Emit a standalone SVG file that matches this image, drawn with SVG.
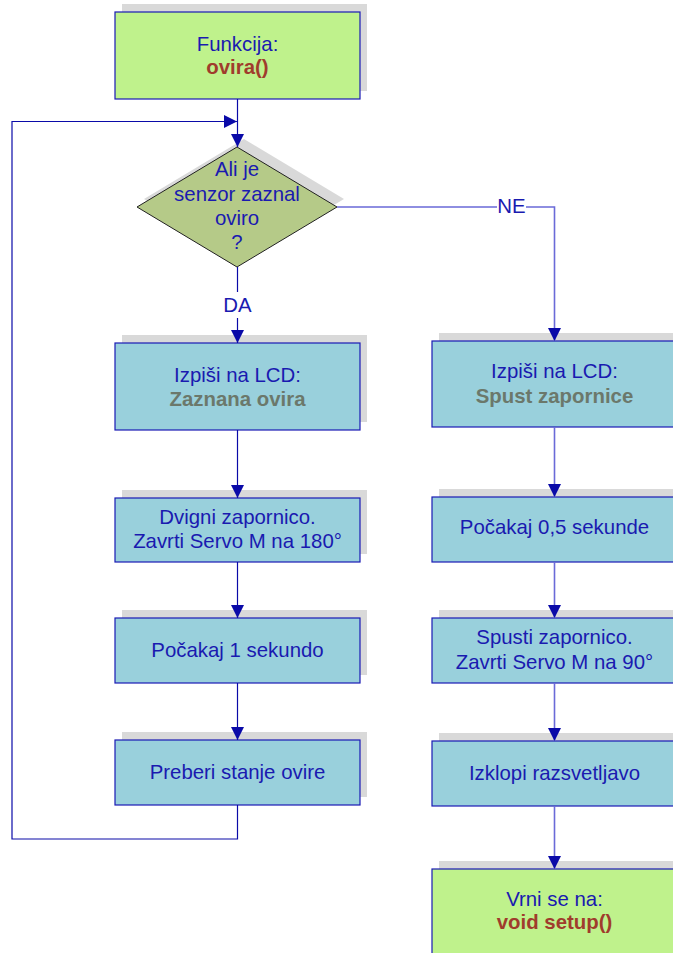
<svg xmlns="http://www.w3.org/2000/svg" width="673" height="953" viewBox="0 0 673 953">
<style>
  text { font-family: "Liberation Sans", Arial, sans-serif; font-size: 20.4px; text-anchor: middle; fill: #1a1ab0; }
  .red { font-weight: bold; fill: #a03c2c; }
  .gray { font-weight: bold; fill: #6b786b; }
  .shadow { fill: #d9d9d9; }
  .green { fill: #bff28c; stroke: #1a1ab4; stroke-width: 1.2; }
  .blue { fill: #99d0dc; stroke: #1a1ab4; stroke-width: 1.2; }
  .dia { fill: #b5ca88; stroke: #222222; stroke-width: 1; }
  .ln { fill: none; stroke: #0a0aa8; stroke-width: 1.2; }
  .lnr { fill: none; stroke: #6a6ad8; stroke-width: 1.6; }
</style>
<defs>
  <marker id="arr" markerUnits="userSpaceOnUse" markerWidth="14" markerHeight="14" refX="13" refY="6.5" orient="auto">
    <path d="M0,0 L13,6.5 L0,13 z" fill="#0a0aa8"/>
  </marker>
</defs>
<rect width="673" height="953" fill="#ffffff"/>

<g id="start">
  <rect class="shadow" x="122" y="4" width="245" height="87"/>
  <rect class="green" x="115" y="12" width="245" height="87"/>
  <text x="237.5" y="51">Funkcija:</text>
  <text class="red" x="237.5" y="74">ovira()</text>
</g>

<g id="decision">
  <polygon class="shadow" points="244,139 344,199 244,259 144,199"/>
  <polygon class="dia" points="237,147 337,207 237,267 137,207"/>
  <text x="237" y="176">Ali je</text>
  <text x="237" y="201">senzor zaznal</text>
  <text x="237" y="225">oviro</text>
  <text x="237" y="249">?</text>
</g>

<g id="lcd-zaznana">
  <rect class="shadow" x="122" y="335" width="245" height="87"/>
  <rect class="blue" x="115" y="343" width="245" height="87"/>
  <text x="237.5" y="382">Izpiši na LCD:</text>
  <text class="gray" x="237.5" y="406">Zaznana ovira</text>
</g>

<g id="dvigni">
  <rect class="shadow" x="122" y="490" width="245" height="64"/>
  <rect class="blue" x="115" y="498" width="245" height="64"/>
  <text x="237.5" y="524">Dvigni zapornico.</text>
  <text x="237.5" y="548">Zavrti Servo M na 180°</text>
</g>

<g id="pocakaj1">
  <rect class="shadow" x="122" y="610" width="245" height="65"/>
  <rect class="blue" x="115" y="618" width="245" height="65"/>
  <text x="237.5" y="657">Počakaj 1 sekundo</text>
</g>

<g id="preberi">
  <rect class="shadow" x="122" y="732" width="245" height="65"/>
  <rect class="blue" x="115" y="740" width="245" height="65"/>
  <text x="237.5" y="779">Preberi stanje ovire</text>
</g>

<g id="lcd-spust">
  <rect class="shadow" x="439" y="333" width="245" height="86"/>
  <rect class="blue" x="432" y="341" width="245" height="86"/>
  <text x="554.5" y="378">Izpiši na LCD:</text>
  <text class="gray" x="554.5" y="403">Spust zapornice</text>
</g>

<g id="pocakaj05">
  <rect class="shadow" x="439" y="489" width="245" height="65"/>
  <rect class="blue" x="432" y="497" width="245" height="65"/>
  <text x="554.5" y="534">Počakaj 0,5 sekunde</text>
</g>

<g id="spusti">
  <rect class="shadow" x="439" y="610" width="245" height="65"/>
  <rect class="blue" x="432" y="618" width="245" height="65"/>
  <text x="554.5" y="644">Spusti zapornico.</text>
  <text x="554.5" y="669">Zavrti Servo M na 90°</text>
</g>

<g id="izklopi">
  <rect class="shadow" x="439" y="733" width="245" height="65"/>
  <rect class="blue" x="432" y="741" width="245" height="65"/>
  <text x="554.5" y="780">Izklopi razsvetljavo</text>
</g>

<g id="vrni">
  <rect class="shadow" x="439" y="861" width="245" height="100"/>
  <rect class="green" x="432" y="869" width="245" height="100"/>
  <text x="554.5" y="906">Vrni se na:</text>
  <text class="red" x="554.5" y="929">void setup()</text>
</g>

<g id="connectors">
  <path class="ln" d="M237.5,99 V147" marker-end="url(#arr)"/>
  <path class="ln" d="M237.5,805 V839 H12 V121.5 H237" marker-end="url(#arr)"/>
  <path class="ln" d="M237.5,267 V343" marker-end="url(#arr)"/>
  <rect x="222" y="292" width="31" height="26" fill="#ffffff"/>
  <text x="237.5" y="312">DA</text>
  <path class="lnr" d="M337,207 H554.5 V341" marker-end="url(#arr)"/>
  <rect x="497" y="197" width="29" height="20" fill="#ffffff"/>
  <text x="511.5" y="213">NE</text>
  <path class="ln" d="M237.5,430 V498" marker-end="url(#arr)"/>
  <path class="ln" d="M237.5,562 V618" marker-end="url(#arr)"/>
  <path class="ln" d="M237.5,683 V740" marker-end="url(#arr)"/>
  <path class="lnr" d="M554.5,427 V497" marker-end="url(#arr)"/>
  <path class="lnr" d="M554.5,562 V618" marker-end="url(#arr)"/>
  <path class="lnr" d="M554.5,683 V741" marker-end="url(#arr)"/>
  <path class="lnr" d="M554.5,806 V869" marker-end="url(#arr)"/>
</g>
</svg>
